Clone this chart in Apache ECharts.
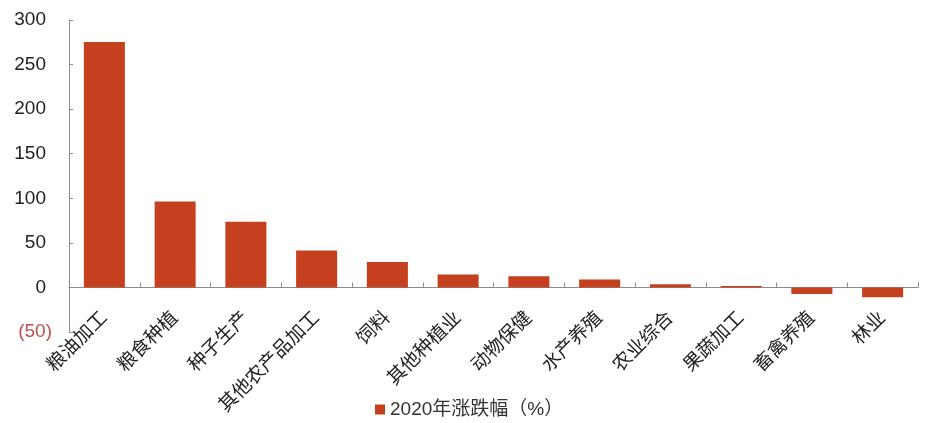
<!DOCTYPE html>
<html>
<head>
<meta charset="utf-8">
<script src="https://cdn.jsdelivr.net/npm/echarts@6/dist/echarts.min.js"></script>
<style>
  html, body { margin: 0; padding: 0; background: #fff; }
  #chart-container { width: 927px; height: 423px; }
</style>
</head>
<body>
<div id="chart-container"></div>
<script>
// 子行业 2020 年涨跌幅
var categories = ['粮油加工', '粮食种植', '种子生产', '其他农产品加工', '饲料', '其他种植业',
                  '动物保健', '水产养殖', '农业综合', '果蔬加工', '畜禽养殖', '林业'];
var changes = [275.4, 96.4, 73.6, 41.5, 28.5, 14.6, 12.5, 9.0, 3.5, 1.5, -7.5, -11.0];
var seriesName = '2020年涨跌幅（%）';
var yTicks = { min: -50, max: 300, step: 50 };

var dom = document.getElementById('chart-container');
var myChart = echarts.init(dom, null, { renderer: 'canvas' });

var fontFamily = '"Liberation Sans", Arial, "Noto Sans CJK SC", sans-serif';

var option = {
    animation: false,
    textStyle: { fontFamily: fontFamily },
    grid: { left: 69, right: 9, top: 20, bottom: 91, containLabel: false },
    legend: {
        top: 395,
        left: 370,
        icon: 'rect',
        itemWidth: 10,
        itemHeight: 10,
        itemGap: 6,
        textStyle: { fontSize: 19, color: '#333', fontFamily: fontFamily },
        data: [seriesName]
    },
    xAxis: {
        type: 'category',
        data: categories,
        axisLine: { onZero: true, lineStyle: { color: '#8c8c8c', width: 1 } },
        axisTick: { show: true, inside: true, length: 5, lineStyle: { color: '#8c8c8c' } },
        axisLabel: {
            interval: 0,
            rotate: 45,
            margin: -17,
            fontSize: 19,
            color: '#222',
            fontFamily: fontFamily
        }
    },
    yAxis: {
        type: 'value',
        min: yTicks.min,
        max: yTicks.max,
        interval: yTicks.step,
        splitLine: { show: false },
        axisLine: { show: true, lineStyle: { color: '#8c8c8c', width: 1 } },
        axisTick: { show: true, inside: true, length: 4, lineStyle: { color: '#8c8c8c' } },
        axisLabel: {
            margin: 17,
            fontSize: 19,
            fontFamily: fontFamily,
            formatter: function (v) {
                return v < 0 ? '{neg|(' + Math.abs(v) + ')}' : '{pos|' + v + '}';
            },
            rich: {
                pos: { color: '#222', fontSize: 19, fontFamily: fontFamily, padding: [0, 6, 0, 0] },
                neg: { color: '#c0504d', fontSize: 19, fontFamily: fontFamily }
            }
        }
    },
    series: [{
        name: seriesName,
        type: 'bar',
        data: changes,
        barCategoryGap: '42%',
        itemStyle: { color: '#c4401f' }
    }]
};

myChart.setOption(option);
window.addEventListener('resize', myChart.resize);
</script>
</body>
</html>
